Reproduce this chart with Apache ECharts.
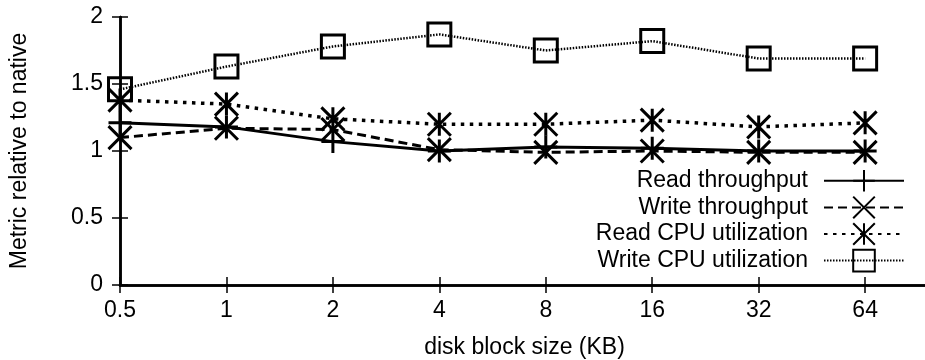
<!DOCTYPE html>
<html>
<head>
<meta charset="utf-8">
<script src="https://cdn.jsdelivr.net/npm/echarts@6/dist/echarts.min.js"></script>
<style>
  html, body { margin: 0; padding: 0; background: #fff; }
  #chart { width: 925px; height: 360px; }
</style>
</head>
<body>
<div id="chart"></div>
<script>
// disk block sizes (KB), one per x position
var blockSizes = ['0.5', '1', '2', '4', '8', '16', '32', '64'];
var yTicks = [0, 0.5, 1, 1.5, 2];

var readThroughput  = [1.21, 1.18, 1.07, 1.00, 1.03, 1.02, 1.00, 1.00];
var writeThroughput = [1.10, 1.17, 1.16, 1.01, 0.99, 1.00, 0.99, 0.99];
var readCpu         = [1.38, 1.35, 1.24, 1.20, 1.20, 1.23, 1.18, 1.21];
var writeCpu        = [1.46, 1.63, 1.78, 1.87, 1.75, 1.82, 1.69, 1.69];

var FONT = 'Liberation Sans';
var FS = 23;
var symPlus = 'path://M5,0L5,10M0,5L10,5';
var symCross = 'path://M0,0L10,10M10,0L0,10';
var symStar = 'path://M5,0L5,10M0,0L10,10M10,0L0,10';

function pts(arr){
  return arr.map(function(v, i){ return [i, v]; });
}

function mkSeries(name, data, symbol, dash, width){
  return {
    name: name,
    type: 'line',
    data: pts(data),
    symbol: symbol,
    symbolSize: 23,
    showAllSymbol: true,
    color: '#000',
    lineStyle: { color: '#000', width: width, type: dash },
    itemStyle: { color: 'rgba(0,0,0,0)', borderColor: '#000', borderWidth: 3 },
    emphasis: { disabled: true },
    animation: false
  };
}

var chart = echarts.init(document.getElementById('chart'));

var option = {
  animation: false,
  textStyle: { fontFamily: FONT },
  grid: { left: 120, top: 17, right: -4, bottom: 75, containLabel: false, outerBoundsMode: 'none' },
  legend: {
    orient: 'vertical',
    right: 15,
    top: 164,
    align: 'right',
    itemWidth: 80,
    itemHeight: 27,
    itemGap: 3,
    selectedMode: false,
    textStyle: { fontFamily: FONT, fontSize: FS, color: '#000', padding: [0, 11, 0, 0] },
    data: ['Read throughput', 'Write throughput', 'Read CPU utilization', 'Write CPU utilization']
  },
  xAxis: [
    {
      type: 'value',
      min: 0,
      max: 7.6,
      interval: 1,
      name: 'disk block size (KB)',
      nameLocation: 'middle',
      nameGap: 51,
      nameTextStyle: { fontFamily: FONT, fontSize: FS, color: '#000' },
      axisLine: { lineStyle: { color: '#000', width: 2.5 } },
      axisTick: { inside: true, length: 8, lineStyle: { color: '#000', width: 1.5 } },
      axisLabel: {
        fontFamily: FONT, fontSize: FS, color: '#000', margin: 14,
        showMaxLabel: false,
        formatter: function(v){ return Number.isInteger(v) ? blockSizes[v] : ''; }
      },
      splitLine: { show: false }
    },
    {
      type: 'value',
      position: 'top',
      min: 0,
      max: 7.6,
      interval: 1,
      axisLine: { lineStyle: { color: '#000', width: 2.5 } },
      axisTick: { inside: true, length: 8, lineStyle: { color: '#000', width: 1.5 } },
      axisLabel: { show: false },
      splitLine: { show: false }
    }
  ],
  yAxis: [
    {
      type: 'value',
      min: yTicks[0],
      max: yTicks[yTicks.length - 1],
      interval: 0.5,
      name: 'Metric relative to native',
      nameLocation: 'middle',
      nameGap: 89,
      nameTextStyle: { fontFamily: FONT, fontSize: FS, color: '#000' },
      axisLine: { show: true, lineStyle: { color: '#000', width: 2.5 } },
      axisTick: { show: true, inside: true, length: 8, lineStyle: { color: '#000', width: 1.5 } },
      axisLabel: { fontFamily: FONT, fontSize: FS, color: '#000', margin: 17 },
      splitLine: { show: false }
    },
    {
      type: 'value',
      position: 'right',
      min: yTicks[0],
      max: yTicks[yTicks.length - 1],
      interval: 0.5,
      axisLine: { show: true, lineStyle: { color: '#000', width: 2.5 } },
      axisTick: { show: true, inside: true, length: 8, lineStyle: { color: '#000', width: 1.5 } },
      axisLabel: { show: false },
      splitLine: { show: false }
    }
  ],
  series: [
    mkSeries('Read throughput', readThroughput, symPlus, 'solid', 3),
    mkSeries('Write throughput', writeThroughput, symCross, [9, 5], 3),
    mkSeries('Read CPU utilization', readCpu, symStar, [3.5, 5.5], 3.5),
    mkSeries('Write CPU utilization', writeCpu, 'rect', [1.5, 1.5], 2.5)
  ]
};

chart.setOption(option);

window.addEventListener('resize', function(){
  chart.resize();
});
</script>
</body>
</html>
